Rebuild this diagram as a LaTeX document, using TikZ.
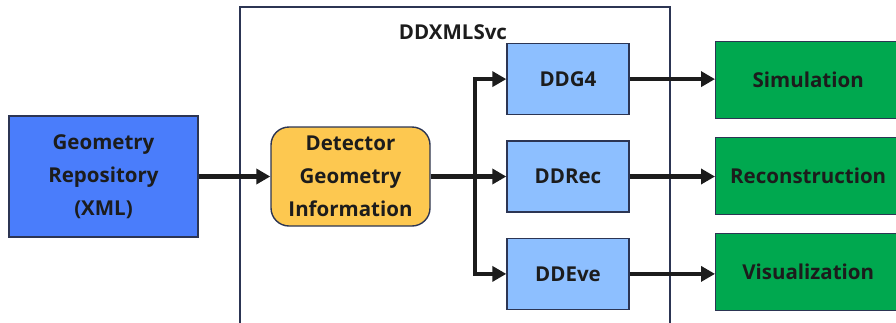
\documentclass[tikz,border=0pt]{standalone}
\usepackage{fontspec}
\setmainfont{Open Sans}
\usepackage{tikz}
\usetikzlibrary{arrows.meta,positioning}
\definecolor{repoblue}{HTML}{4A7DFB}
\definecolor{infoyellow}{HTML}{FDC850}
\definecolor{svcblue}{HTML}{8DBFFF}
\definecolor{appgreen}{HTML}{00A84F}
\definecolor{edge}{HTML}{2C3553}
\definecolor{ink}{HTML}{1C1C1C}
\tikzstyle{blk}=[draw=edge,line width=1.4pt,align=center,text=ink,
                font=\fontsize{20.5}{33}\selectfont\bfseries,inner sep=0pt]
\tikzstyle{repo}=[blk,fill=repoblue,minimum width=189pt,minimum height=121pt]
\tikzstyle{info}=[blk,fill=infoyellow,rounded corners=18pt,
                minimum width=159pt,minimum height=99pt]
\tikzstyle{svc}=[blk,fill=svcblue,minimum width=122pt,minimum height=71pt]
\tikzstyle{app}=[blk,fill=appgreen,minimum width=185pt,minimum height=77pt]
\tikzstyle{flow}=[line width=4.5pt,draw=ink,-{Triangle[length=14pt,width=15pt]}]

\begin{document}
\begin{tikzpicture}[x=1pt,y=-1pt]
        \useasboundingbox (0,0) rectangle (896,322);
        % service frame
        \draw[draw=edge,line width=1.2pt] (240,7) rectangle (670,340);
        \node[font=\fontsize{20.5}{24}\selectfont\bfseries,text=ink] (svc) at (453,32) {DDXMLSvc};
        \node [repo] (repo) at (103.5,176.5) {Geometry\\Repository\\(XML)};
        \node [info] (info) at (350.5,176.5) {Detector\\Geometry\\Information};
        \node [svc] (ddrec) at (568,176.5) {DDRec};
        \node [svc,above = 25pt of ddrec] (ddg4) {DDG4};
        \node [svc,below = 25pt of ddrec] (ddeve) {DDEve};
        \node [app,anchor=west] (rec) at (715,176) {Reconstruction};
        \node [app,anchor=west] (sim) at (715,80) {Simulation};
        \node [app,anchor=west] (vis) at (715,272) {Visualization};
        \coordinate (split) at (475,176.5);
        \draw[flow] (repo) -- (info);
        \draw[flow] (info) -- (ddrec);
        \draw[flow] (split) |- (ddg4);
        \draw[flow] (split) |- (ddeve);
        \draw[flow] (ddg4.east) -- (ddg4.east -| sim.west);
        \draw[flow] (ddrec.east) -- (ddrec.east -| rec.west);
        \draw[flow] (ddeve.east) -- (ddeve.east -| vis.west);
\end{tikzpicture}
\end{document}
